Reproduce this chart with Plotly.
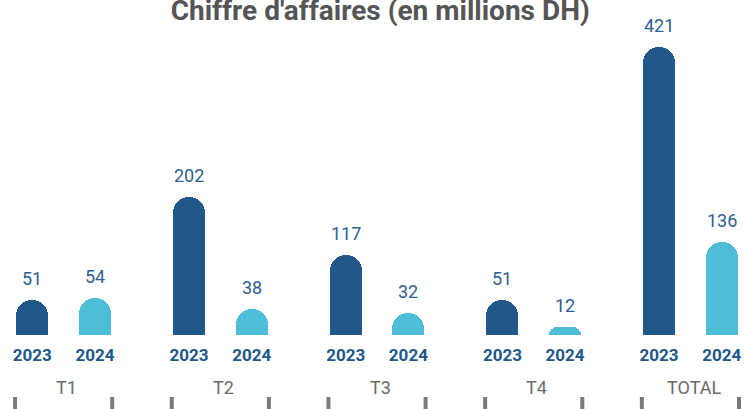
import plotly.graph_objects as go

groups = ["T1", "T2", "T3", "T4", "TOTAL"]
years = ["2023", "2024"]
ca_2023 = [51, 202, 117, 51, 421]
ca_2024 = [54, 38, 32, 12, 136]

dark_blue = "#215789"
light_blue = "#4dbdd8"
gray = "#6b6b6b"

offset = 0.2
bar_w = 0.204

x_2023 = [i - offset for i in range(len(groups))]
x_2024 = [i + offset for i in range(len(groups))]

fig = go.Figure()

fig.add_trace(go.Bar(
    x=x_2023, y=ca_2023, width=bar_w, name=years[0],
    marker=dict(color=dark_blue, cornerradius=16, line_width=0),
))
fig.add_trace(go.Bar(
    x=x_2024, y=ca_2024, width=bar_w, name=years[1],
    marker=dict(color=light_blue, cornerradius=16, line_width=0),
))

# value labels a bit higher above the bars than plotly's "outside" text
for xs, vals in ((x_2023, ca_2023), (x_2024, ca_2024)):
    for x, v in zip(xs, vals):
        fig.add_annotation(
            x=x, y=v, xref="x", yref="y", text=str(v),
            showarrow=False, yanchor="bottom", yshift=9,
            font=dict(family="Roboto", size=18, color="#2e5f92"),
        )

tickvals = []
ticktext = []
for a, b in zip(x_2023, x_2024):
    tickvals += [a, b]
    ticktext += years

# group labels and the little bracket ticks under them
for i, g in enumerate(groups):
    fig.add_annotation(
        x=i + 0.02, xref="x", y=0, yref="paper", yshift=-52,
        text=g, showarrow=False, yanchor="middle",
        font=dict(family="Roboto", size=18, color=gray),
    )
    for side in (-0.31, 0.31):
        fig.add_shape(
            type="line", xref="x", yref="paper",
            x0=i + side, x1=i + side,
            ysizemode="pixel", yanchor=0, y0=-62, y1=-80,
            line=dict(color="#7a7a7a", width=4),
        )

fig.update_layout(
    width=747, height=409,
    margin=dict(l=0, r=0, t=0, b=74),
    paper_bgcolor="white", plot_bgcolor="white",
    showlegend=False,
    bargap=0,
    title=dict(
        text="<b>Chiffre d'affaires (en millions DH)</b>",
        x=0.509, xanchor="center", xref="paper",
        y=1 - 20 / 409, yref="container", yanchor="bottom",
        font=dict(family="Roboto", size=28, color="#555555"),
    ),
    xaxis=dict(
        range=[-0.406, 4.361],
        tickvals=tickvals, ticktext=ticktext,
        tickfont=dict(family="Roboto", size=17, color=dark_blue, weight="bold"),
        ticks="", showgrid=False, zeroline=False, showline=False,
        ticklabelstandoff=8, automargin=False,
    ),
    yaxis=dict(
        range=[0, 490], visible=False, showgrid=False, zeroline=False,
    ),
)

# drop the default 8px body margin so the figure fills the window
fig.write_html(
    "out.html",
    config={"displayModeBar": False},
    post_script="document.body.style.margin = '0px';",
)
